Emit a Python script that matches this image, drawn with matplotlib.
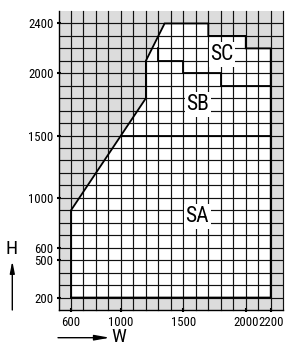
import matplotlib
matplotlib.use("Agg")
import matplotlib.pyplot as plt
from matplotlib.patches import Polygon, FancyArrowPatch
from matplotlib import font_manager as fm

# Valid region outline (W, H)
outline_w = [600, 600, 1200, 1200, 1350, 1700, 1700, 2000, 2000, 2200, 2200]
outline_h = [200, 900, 1800, 2100, 2400, 2400, 2300, 2300, 2200, 2200, 200]

# SA / SB boundary
sa_sb_w = [1000, 2200]
sa_sb_h = [1500, 1500]

# SB / SC boundary
sb_sc_w = [1300, 1300, 1500, 1500, 1800, 1800, 2200]
sb_sc_h = [2200, 2100, 2100, 2000, 2000, 1900, 1900]

# Region labels
region_names = ["SA", "SB", "SC"]
region_w = [1610, 1615, 1810]
region_h = [850, 1750, 2150]

x_ticks = [600, 1000, 1500, 2000, 2200]
y_ticks = [200, 500, 600, 1000, 1500, 2000, 2400]

# pick a condensed font if one is installed
names = {e.name for e in fm.fontManager.ttflist}
prefs = ["Liberation Sans Narrow", "Roboto Condensed", "Archivo Narrow",
         "PT Sans Narrow", "Arimo", "Liberation Sans"]
chosen = next((p for p in prefs if p in names), "DejaVu Sans")
fam = [chosen, "DejaVu Sans"]
narrow_ok = chosen in ("Liberation Sans Narrow", "Roboto Condensed", "Archivo Narrow",
                       "PT Sans Narrow")
if narrow_ok:
    lab_font = dict(family=fam, size=15.5)
    tick_font = dict(family=fam, size=9.2)
    axn_font = dict(family=fam, size=14)
else:
    lab_font = dict(family=fam, size=12.5)
    tick_font = dict(family=fam, size=8.0)
    axn_font = dict(family=fam, size=11.5)

fig = plt.figure(figsize=(2.86, 3.45), dpi=100)
W, H = 286, 345
left, right, top, bottom = 58.5, 283.2, 11.0, 310.0
ax = fig.add_axes([left / W, 1 - bottom / H, (right - left) / W, (bottom - top) / H])
ax.set_xlim(500, 2300)
ax.set_ylim(100, 2500)
ax.set_facecolor("#dcdcdc")

poly = Polygon(list(zip(outline_w, outline_h)), closed=True, facecolor="white",
               edgecolor="none", zorder=1)
ax.add_patch(poly)

grid_col = "#111111"
for gx in range(600, 2301, 100):
    ax.axvline(gx, color=grid_col, lw=0.85, zorder=2, clip_on=False)
for gy in range(200, 2401, 100):
    ax.axhline(gy, color=grid_col, lw=0.85, zorder=2)

ax.plot(outline_w + [outline_w[0]], outline_h + [outline_h[0]], color="black",
        lw=1.3, zorder=3, solid_joinstyle="miter")
ax.plot(sa_sb_w, sa_sb_h, color="black", lw=1.3, zorder=3)
ax.plot(sb_sc_w, sb_sc_h, color="black", lw=1.3, zorder=3, solid_joinstyle="miter")

for name, rx, ry in zip(region_names, region_w, region_h):
    ax.text(rx, ry, name, ha="center", va="center", zorder=4,
            bbox=dict(facecolor="white", edgecolor="none", pad=1.3), **lab_font)

for s in ["top", "right"]:
    ax.spines[s].set_visible(False)
for s in ["left", "bottom"]:
    ax.spines[s].set_color("black")
    ax.spines[s].set_linewidth(1.0)
    ax.spines[s].set_zorder(5)

ax.set_xticks(x_ticks)
ax.set_yticks(y_ticks)
ax.set_xticklabels([str(v) for v in x_ticks], **tick_font)
ax.set_yticklabels([str(v) for v in y_ticks], **tick_font)
ax.tick_params(direction="inout", length=3, width=1.5, pad=2.5)
ax.tick_params(axis="y", pad=2)

# Axis names with arrows
fig.text(12 / W, 1 - 249.5 / H, "H", ha="center", va="center", **axn_font)
fig.text(118.5 / W, 1 - 337.5 / H, "W", ha="center", va="center", **axn_font)
fig.add_artist(FancyArrowPatch(
    (12.3 / W, 1 - 310 / H), (12.3 / W, 1 - 261 / H), transform=fig.transFigure,
    arrowstyle="-|>,head_length=7,head_width=1.4", color="black", lw=1.0,
    shrinkA=0, shrinkB=0))
fig.add_artist(FancyArrowPatch(
    (58 / W, 1 - 337.7 / H), (110 / W, 1 - 337.7 / H), transform=fig.transFigure,
    arrowstyle="-|>,head_length=9,head_width=1.6", color="black", lw=1.0,
    shrinkA=0, shrinkB=0))

fig.savefig("out.png", dpi=100)
